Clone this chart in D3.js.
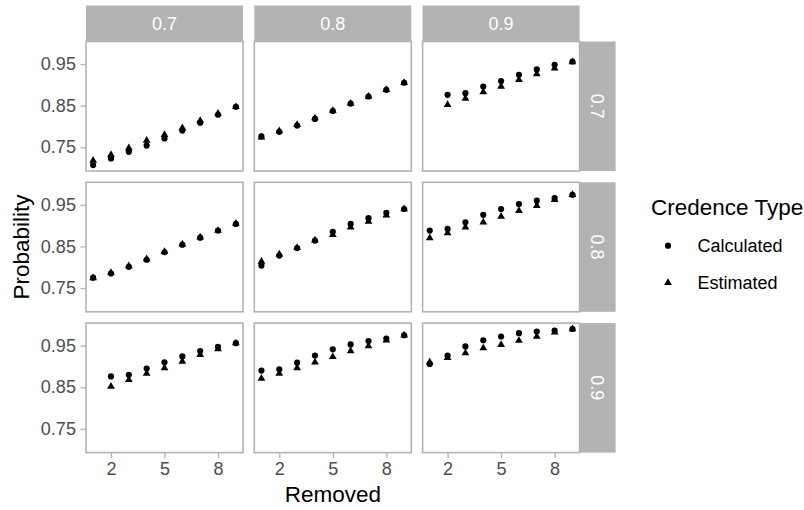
<!DOCTYPE html>
<html>
<head>
<meta charset="utf-8">
<script src="https://cdn.jsdelivr.net/npm/d3@7/dist/d3.min.js"></script>
<style>
  body { margin: 0; background: #ffffff; }
  svg { font-family: "Liberation Sans", Arial, sans-serif; }
</style>
</head>
<body>
<svg id="chart" width="804" height="510"></svg>
<script>
var facetLevels = ["0.7", "0.8", "0.9"];
var removed = [1, 2, 3, 4, 5, 6, 7, 8, 9];
var xTicks = [2, 5, 8];
var yTicks = [0.75, 0.85, 0.95];
var types = ["Calculated", "Estimated"];

// [row (right strip)][col (top strip)] -> value for removed 1..9
var calculated = [
  [[0.707, 0.723, 0.739, 0.754, 0.771, 0.790, 0.809, 0.828, 0.847],
   [0.776, 0.787, 0.802, 0.818, 0.837, 0.855, 0.872, 0.888, 0.905],
   [null,  0.876, 0.880, 0.896, 0.909, 0.924, 0.937, 0.948, 0.956]],
  [[0.775, 0.785, 0.801, 0.818, 0.836, 0.854, 0.871, 0.888, 0.904],
   [0.804, 0.828, 0.846, 0.864, 0.885, 0.904, 0.918, 0.931, 0.940],
   [0.888, 0.892, 0.908, 0.926, 0.940, 0.952, 0.960, 0.966, 0.974]],
  [[null,  0.876, 0.880, 0.895, 0.910, 0.924, 0.937, 0.947, 0.956],
   [0.890, 0.893, 0.909, 0.926, 0.941, 0.953, 0.961, 0.967, 0.975],
   [0.906, 0.926, 0.948, 0.963, 0.972, 0.980, 0.984, 0.986, 0.990]]
];
var estimated = [
  [[0.718, 0.732, 0.748, 0.766, 0.780, 0.796, 0.814, 0.831, 0.847],
   [0.774, 0.789, 0.804, 0.820, 0.838, 0.855, 0.872, 0.888, 0.905],
   [null,  0.852, 0.867, 0.883, 0.896, 0.912, 0.926, 0.940, 0.955]],
  [[0.774, 0.787, 0.803, 0.820, 0.837, 0.855, 0.872, 0.888, 0.905],
   [0.814, 0.831, 0.847, 0.865, 0.878, 0.896, 0.910, 0.925, 0.940],
   [0.870, 0.882, 0.896, 0.908, 0.922, 0.936, 0.948, 0.962, 0.974]],
  [[null,  0.852, 0.868, 0.883, 0.896, 0.912, 0.928, 0.942, 0.956],
   [0.871, 0.883, 0.896, 0.910, 0.923, 0.937, 0.949, 0.963, 0.975],
   [0.910, 0.921, 0.932, 0.944, 0.952, 0.962, 0.972, 0.982, 0.990]]
];

var panelLeft = 86, panelTop = 41.5, pw = 157, ph = 129.5, gap = 11.3, strip = 36;
var grey70 = "#B3B3B3";
var svg = d3.select("#chart");

var x = d3.scaleLinear().domain([0.6, 9.4]).range([0, pw]);

var allVals = [];
[calculated, estimated].forEach(function(s){
  s.forEach(function(row){ row.forEach(function(p){ p.forEach(function(v){ if (v != null) allVals.push(v); }); }); });
});
var ext = d3.extent(allVals);
var pad = (ext[1] - ext[0]) * 0.05;
var y = d3.scaleLinear().domain([ext[0] - pad, ext[1] + pad]).range([ph, 0]);

var shapes = {
  Calculated: d3.symbol().type(d3.symbolCircle).size(30),
  Estimated: d3.symbol().type(d3.symbolTriangle).size(26)
};

facetLevels.forEach(function(rowLab, ri){
  facetLevels.forEach(function(colLab, ci){
    var px = panelLeft + ci * (pw + gap);
    var py = panelTop + ri * (ph + gap);
    var g = svg.append("g").attr("transform", "translate(" + px + "," + py + ")");

    // points
    [calculated, estimated].forEach(function(series, si){
      var pts = removed.map(function(r, k){ return {x: r, y: series[ri][ci][k]}; })
        .filter(function(d){ return d.y != null; });
      g.selectAll(null).data(pts).enter().append("path")
        .attr("d", shapes[types[si]])
        .attr("transform", function(d){ return "translate(" + x(d.x) + "," + y(d.y) + ")"; })
        .attr("fill", "#000000");
    });

    g.append("rect")
      .attr("x", 0).attr("y", 0).attr("width", pw).attr("height", ph)
      .attr("fill", "none").attr("stroke", grey70).attr("stroke-width", 1.6);

    // y axis on first column
    if (ci === 0) {
      var ya = g.append("g").call(d3.axisLeft(y).tickValues(yTicks).tickSize(5.6).tickPadding(4.5).tickFormat(d3.format(".2f")));
      ya.select(".domain").remove();
      ya.selectAll("line").attr("stroke", grey70).attr("stroke-width", 1.3);
      ya.selectAll("text").attr("fill", "#4D4D4D").style("font-size", "18px").style("font-family", "Liberation Sans, Arial, sans-serif");
    }
    // x axis on last row
    if (ri === facetLevels.length - 1) {
      var xa = g.append("g").attr("transform", "translate(0," + ph + ")")
        .call(d3.axisBottom(x).tickValues(xTicks).tickSize(5.6).tickPadding(4.5).tickFormat(d3.format("d")));
      xa.select(".domain").remove();
      xa.selectAll("line").attr("stroke", grey70).attr("stroke-width", 1.3);
      xa.selectAll("text").attr("fill", "#4D4D4D").style("font-size", "18px").style("font-family", "Liberation Sans, Arial, sans-serif");
    }

    // top strips
    if (ri === 0) {
      svg.append("rect").attr("x", px).attr("y", panelTop - strip).attr("width", pw).attr("height", strip).attr("fill", grey70);
      svg.append("text").attr("x", px + pw / 2).attr("y", panelTop - strip / 2)
        .attr("text-anchor", "middle").attr("dy", "0.35em")
        .attr("fill", "#FFFFFF").style("font-size", "18px").text(colLab);
    }
    // right strips
    if (ci === facetLevels.length - 1) {
      var sx = px + pw;
      svg.append("rect").attr("x", sx).attr("y", py).attr("width", strip).attr("height", ph).attr("fill", grey70);
      svg.append("text")
        .attr("transform", "translate(" + (sx + strip / 2) + "," + (py + ph / 2) + ") rotate(90)")
        .attr("text-anchor", "middle").attr("dy", "0.35em")
        .attr("fill", "#FFFFFF").style("font-size", "18px").text(rowLab);
    }
  });
});

// axis titles
var panelsW = 3 * pw + 2 * gap, panelsH = 3 * ph + 2 * gap;
svg.append("text").attr("x", panelLeft + panelsW / 2).attr("y", 502)
  .attr("text-anchor", "middle").attr("fill", "#000000").style("font-size", "22.5px").text("Removed");
svg.append("text").attr("transform", "translate(28.5," + (panelTop + panelsH / 2) + ") rotate(-90)")
  .attr("text-anchor", "middle").attr("fill", "#000000").style("font-size", "22.5px").text("Probability");

// legend
var lg = svg.append("g").attr("transform", "translate(651,0)");
lg.append("text").attr("x", 0).attr("y", 214.5).attr("fill", "#000000").style("font-size", "22.5px").text("Credence Type");
types.forEach(function(t, i){
  var ly = 245.7 + i * 37;
  lg.append("path").attr("d", shapes[t]).attr("transform", "translate(17," + ly + ")").attr("fill", "#000000");
  lg.append("text").attr("x", 46.5).attr("y", ly).attr("dy", "0.35em").attr("fill", "#000000").style("font-size", "18px").text(t);
});
</script>
</body>
</html>
